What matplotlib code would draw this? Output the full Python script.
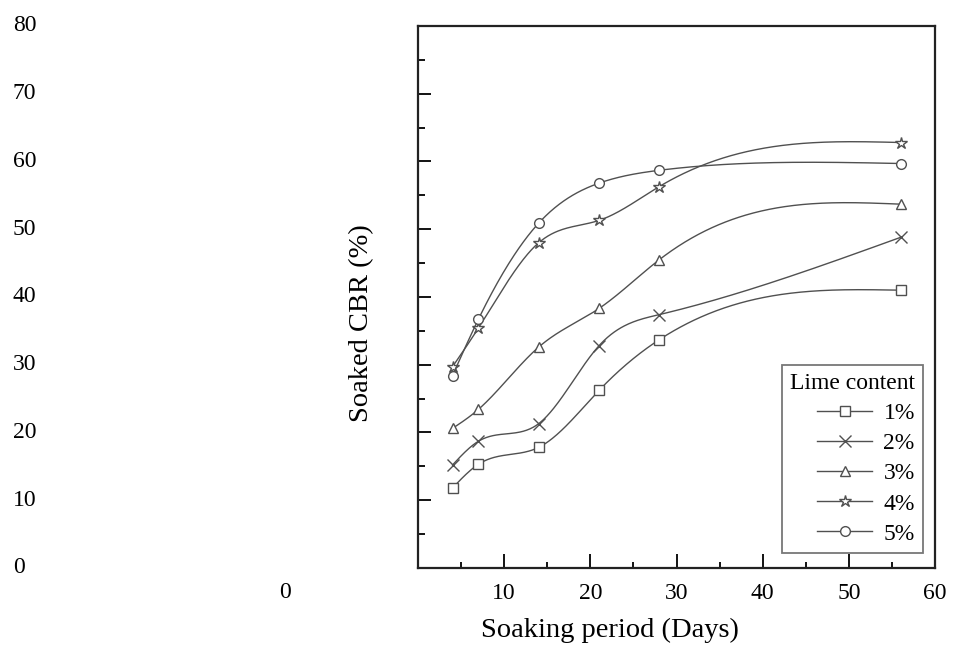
import numpy as np
import matplotlib
matplotlib.use("Agg")
import matplotlib.pyplot as plt
import matplotlib.transforms as mtransforms
from matplotlib.ticker import MultipleLocator

plt.rcParams['font.family'] = ['Liberation Serif', 'DejaVu Serif']

# soaking period (days) and soaked CBR (%) per lime content
days = [4, 7, 14, 21, 28, 56]
cbr_1 = [11.8, 15.3, 17.8, 26.2, 33.7, 41.0]
cbr_2 = [15.2, 18.7, 21.3, 32.8, 37.4, 48.8]
cbr_3 = [20.6, 23.4, 32.6, 38.3, 45.5, 53.7]
cbr_4 = [29.7, 35.4, 48.0, 51.3, 56.3, 62.8]
cbr_5 = [28.4, 36.7, 50.9, 56.8, 58.7, 59.7]
labels = ['1%', '2%', '3%', '4%', '5%']
markers = ['s', 'x', '^', '*', 'o']

y_ticks = [0, 10, 20, 30, 40, 50, 60, 70, 80]
x_ticks = [10, 20, 30, 40, 50, 60]


def natural_spline(x, y, xs):
    # smooth connecting line, like the origin "spline" line style
    x = np.asarray(x, float)
    y = np.asarray(y, float)
    n = len(x)
    h = np.diff(x)
    A = np.zeros((n, n))
    b = np.zeros(n)
    A[0, 0] = A[-1, -1] = 1
    for i in range(1, n - 1):
        A[i, i - 1] = h[i - 1]
        A[i, i] = 2 * (h[i - 1] + h[i])
        A[i, i + 1] = h[i]
        b[i] = 6 * ((y[i + 1] - y[i]) / h[i] - (y[i] - y[i - 1]) / h[i - 1])
    M = np.linalg.solve(A, b)
    i = np.clip(np.searchsorted(x, xs) - 1, 0, n - 2)
    hi = h[i]
    a = x[i + 1] - xs
    c = xs - x[i]
    return (M[i] * a**3 / (6 * hi) + M[i + 1] * c**3 / (6 * hi)
            + (y[i] / hi - M[i] * hi / 6) * a
            + (y[i + 1] / hi - M[i + 1] * hi / 6) * c)


fig = plt.figure(figsize=(9.54, 6.48), dpi=100)
ax = fig.add_axes([0.4382, 0.1235, 0.5419, 0.8364])

line_col = '#505050'
xs = np.linspace(days[0], days[-1], 400)
for vals, lab, mk in zip([cbr_1, cbr_2, cbr_3, cbr_4, cbr_5], labels, markers):
    ax.plot(xs, natural_spline(days, vals, xs), color=line_col, lw=1.0)
    ms = 9 if mk == '*' else (8 if mk == 'x' else 7)
    ax.plot(days, vals, linestyle='none', marker=mk, ms=ms, mfc='white',
            mec=line_col, mew=1.0)
    # legend proxy
    ax.plot([], [], color=line_col, lw=1.0, marker=mk, ms=ms, mfc='white',
            mec=line_col, mew=1.0, label=lab)

ax.set_xlim(0, 60)
ax.set_ylim(0, 80)
ax.xaxis.set_major_locator(MultipleLocator(10))
ax.xaxis.set_minor_locator(MultipleLocator(5))
ax.yaxis.set_major_locator(MultipleLocator(10))
ax.yaxis.set_minor_locator(MultipleLocator(5))
ax.set_xticks(x_ticks)
ax.set_xticklabels([str(t) for t in x_ticks])
ax.tick_params(axis='both', which='both', direction='in', labelsize=17)
ax.tick_params(axis='x', which='major', length=10, width=1.3, pad=11)
ax.tick_params(axis='x', which='minor', length=4, width=1.3)
ax.tick_params(axis='y', which='major', length=9, width=1.3, labelleft=False)
ax.tick_params(axis='y', which='minor', length=5, width=1.3)
for sp in ax.spines.values():
    sp.set_linewidth(1.6)
    sp.set_color('#222222')

# y tick labels sit at the far left of the picture
trans = mtransforms.blended_transform_factory(fig.transFigure, ax.transData)
for t in y_ticks:
    ax.text(13 / 954, t, str(t), transform=trans, ha='left', va='center',
            fontsize=17, clip_on=False)
# stray x label "0"
fig.text(285 / 954, 1 - 592 / 648, '0', ha='center', va='center', fontsize=17)

ax.set_xlabel('Soaking period (Days)', fontsize=20.5)
ax.xaxis.set_label_coords((610 - 418) / 517, (568 - 630) / 542)
ax.xaxis.label.set_va('center')
ax.set_ylabel('Soaked CBR (%)', fontsize=20.5)
ax.yaxis.set_label_coords((362 - 418) / 517, (568 - 323) / 542)
ax.yaxis.label.set_va('center')

leg = ax.legend(title='Lime content', loc='lower right',
                bbox_to_anchor=(0.977, 0.028), fontsize=17, title_fontsize=17,
                frameon=True, fancybox=False, handlelength=2.3,
                handletextpad=0.5, labelspacing=0.36, borderpad=0.35,
                borderaxespad=0)
leg.get_frame().set_edgecolor('#555555')
leg.get_frame().set_linewidth(1.3)
leg._legend_box.align = 'right'

fig.savefig('out.png', dpi=100)
